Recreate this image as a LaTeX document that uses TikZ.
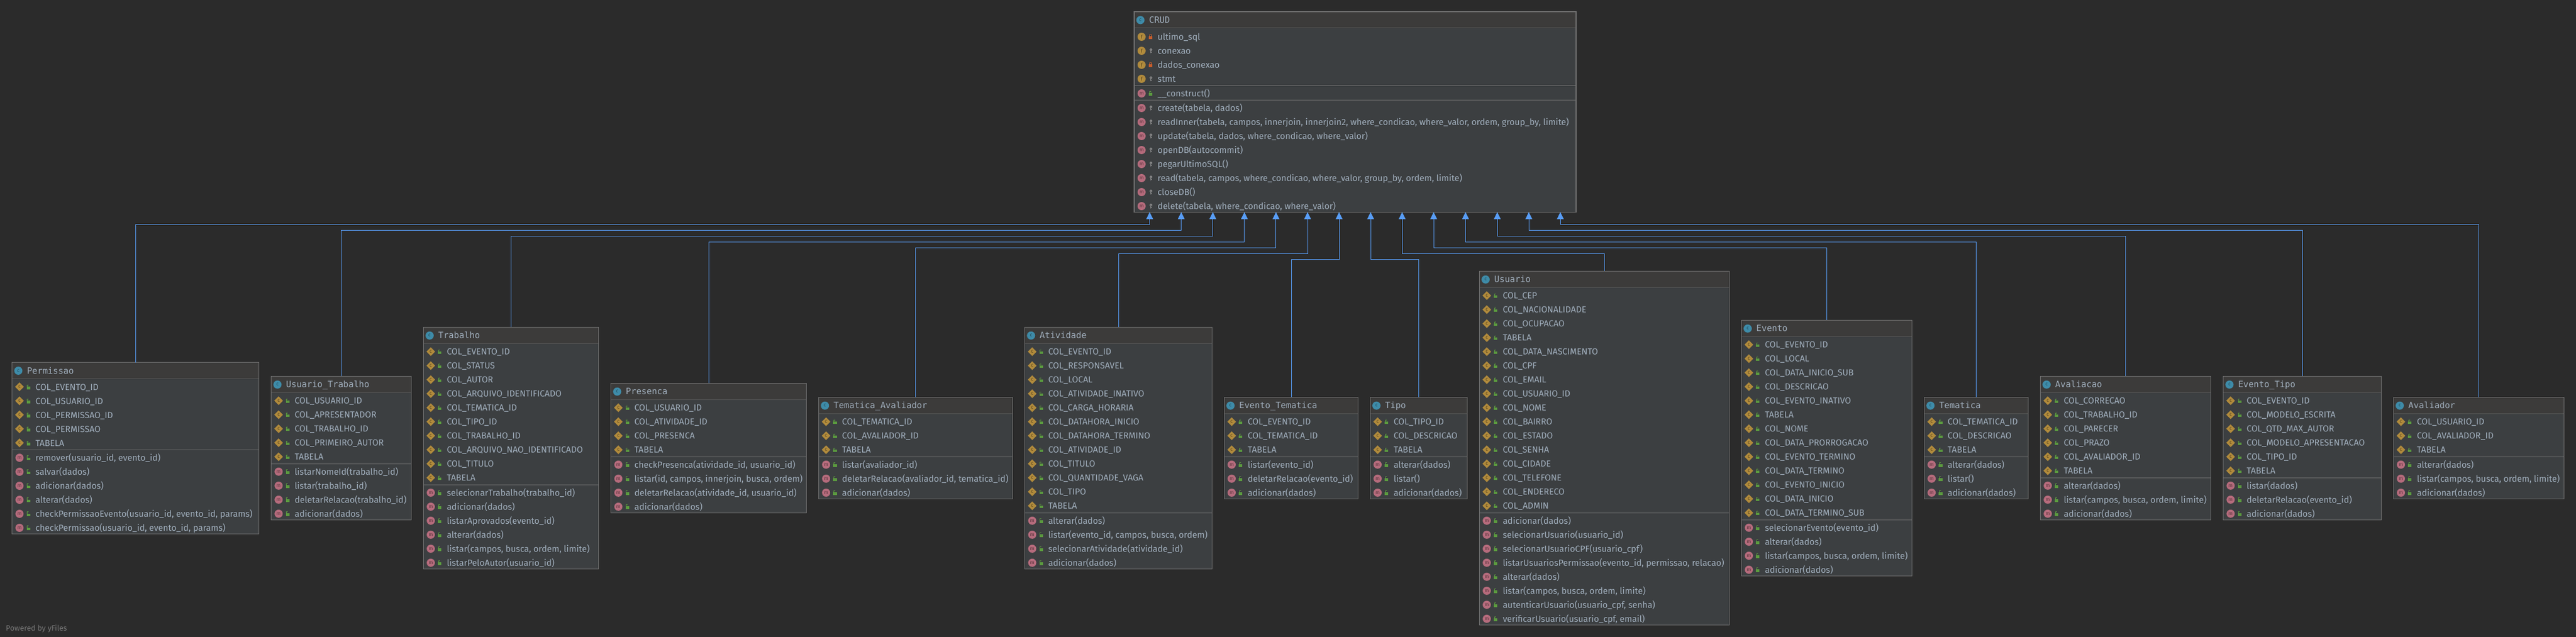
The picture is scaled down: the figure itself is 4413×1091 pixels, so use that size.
\documentclass[tikz,border=0pt]{standalone}
\usepackage{fontspec}
\setmainfont{Fira Sans}
\newfontfamily\titlefont{DejaVu Sans Mono}
\usetikzlibrary{arrows.meta}
\usetikzlibrary{shapes.geometric}
\definecolor{bgdark}{HTML}{2B2B2B}
\definecolor{bodyfill}{HTML}{3C3F41}
\definecolor{titlefill}{HTML}{3C3B3A}
\definecolor{boxline}{HTML}{707070}
\definecolor{titleline}{HTML}{555555}
\definecolor{rowtext}{HTML}{A0AEBC}
\definecolor{linkblue}{HTML}{589DF6}
\definecolor{constorange}{HTML}{B08A3C}
\definecolor{methodpink}{HTML}{B56B7C}
\definecolor{classteal}{HTML}{3E8BA8}
\definecolor{lockgreen}{HTML}{5B9A3F}
\definecolor{lockred}{HTML}{C75D2C}
\definecolor{keygrey}{HTML}{9A9A9A}
\tikzset{
 classbox/.style = {%
    shape=rectangle,
    draw=boxline,
    fill=bodyfill,
    line width=1.2pt,
    inner sep=0pt, outer sep=0pt},
 classname/.style = {%
    anchor=base west,
    inner sep=0pt,
    text=rowtext,
    font=\titlefont\fontsize{14.8}{16}\selectfont},
 rowlabel/.style = {%
    anchor=base west,
    inner sep=0pt,
    text=rowtext,
    font=\fontsize{15.1}{18}\selectfont},
 iconbase/.style = {%
    inner sep=0pt,
    font=\fontsize{8.5}{9}\selectfont},
 classicon/.style = {iconbase, circle, fill=classteal, minimum size=14pt, text=classteal!55!black},
 methodicon/.style = {iconbase, circle, fill=methodpink, minimum size=14pt, text=methodpink!50!black},
 fieldicon/.style = {iconbase, circle, fill=constorange, minimum size=14pt, text=constorange!50!black},
 consticon/.style = {iconbase, diamond, fill=constorange, minimum size=15pt, text=constorange!50!black},
 extends/.style = {%
    draw=linkblue,
    line width=1pt,
    -{Triangle[length=12pt,width=11.5pt]}},
 pics/lockopen/.style = {code={
    \fill[lockgreen] (-2.8,-0.5) rectangle (3.4,4);
    \draw[lockgreen,line width=1pt] (-1.6,0) -- (-1.6,-3.2) -- (0.8,-3.2);}},
 pics/lockclosed/.style = {code={
    \fill[lockred] (-3.2,-1) rectangle (3.2,4);
    \draw[lockred,line width=1pt] (-1.6,-1) -- (-1.6,-3.6) -- (1.6,-3.6) -- (1.6,-1);}},
 pics/keyicon/.style = {code={
    \draw[keygrey,line width=1pt] (1,-1.8) circle (1.8pt);
    \draw[keygrey,line width=1pt] (1,0) -- (1,4) (1,2.2) -- (2.6,2.2);}},
}
% name, icon style, icon letter, visibility pic, y, text
\newcommand{\classrow}[6]{%
    \node[#2] (#1-icon) at (12.7,{#5}) {#3};
    \path (27.7,{#5}) pic {#4};
    \node[rowlabel] (#1) at (40,{#5+5.5}) {#6};
}
% name, title, x, y, width, field count, method count, fields, methods
\newcommand{\umlclass}[9]{%
    \pgfmathsetmacro{\dividery}{30+24*#6}
    \pgfmathsetmacro{\boxh}{\dividery+24*#7}
    \node[classbox, anchor=north west, minimum width=#5pt, minimum height=\boxh pt] (#1) at (#3,#4) {};
    \begin{scope}[shift={(#3,#4)}]
        \fill[titlefill] (0.6,0.6) rectangle (#5-0.6,28);
        \draw[titleline,line width=1pt] (0.6,28) -- (#5-0.6,28);
        \draw[boxline,line width=1pt] (0.6,\dividery) -- (#5-0.6,\dividery);
        \node[classicon] (#1-icon) at (10.7,14.4) {c};
        \node[classname] (#1-title) at (25.4,19.5) {#2};
        \foreach \txt [count=\i] in {#8} {
            \classrow{#1-f\i}{consticon}{c}{lockopen}{42+24*(\i-1)}{\txt}
        }
        \foreach \txt [count=\i] in {#9} {
            \classrow{#1-m\i}{methodicon}{m}{lockopen}{\dividery+13.5+24*(\i-1)}{\txt}
        }
    \end{scope}
}
\begin{document}
\begin{tikzpicture}[x=1pt,y=-1pt]
    \fill[bgdark] (0,0) rectangle (4413,1091);
    \useasboundingbox (0,0) rectangle (4413,1091);

    \node[classbox, anchor=north west, minimum width=757pt, minimum height=343.3pt] (crud) at (1943,20) {};
    \begin{scope}[shift={(1943,20)}]
        \fill[titlefill] (0.6,0.6) rectangle (756.4,28);
        \draw[titleline,line width=1pt] (0.6,28) -- (756.4,28);
        \draw[boxline,line width=1pt] (0.6,126.3) -- (756.4,126.3);
        \draw[boxline,line width=1pt] (0.6,151.3) -- (756.4,151.3);
        \node[classicon] (crud-icon) at (10.7,14.4) {c};
        \node[classname] (crud-title) at (25.4,19.5) {CRUD};
        \foreach \vis/\txt [count=\i] in {lockclosed/ultimo\_sql, keyicon/conexao, lockclosed/dados\_conexao, keyicon/stmt} {
            \classrow{crud-f\i}{fieldicon}{f}{\vis}{43+24*(\i-1)}{\txt}
        }
        \classrow{crud-c1}{methodicon}{m}{lockopen}{140}{\_\_construct()}
        \foreach \txt [count=\i] in {
            {create(tabela, dados)},
            {readInner(tabela, campos, innerjoin, innerjoin2, where\_condicao, where\_valor, ordem, group\_by, limite)},
            {update(tabela, dados, where\_condicao, where\_valor)},
            {openDB(autocommit)},
            {pegarUltimoSQL()},
            {read(tabela, campos, where\_condicao, where\_valor, group\_by, ordem, limite)},
            {closeDB()},
            {delete(tabela, where\_condicao, where\_valor)}} {
            \classrow{crud-m\i}{methodicon}{m}{keyicon}{165+24*(\i-1)}{\txt}
        }
    \end{scope}

    \umlclass{permissao}{Permissao}{20.7}{620.5}{422.8}{5}{6}
        {COL\_EVENTO\_ID, COL\_USUARIO\_ID, COL\_PERMISSAO\_ID, COL\_PERMISSAO, TABELA}
        {{remover(usuario\_id, evento\_id)}, salvar(dados), adicionar(dados), alterar(dados),
         {checkPermissaoEvento(usuario\_id, evento\_id, params)}, {checkPermissao(usuario\_id, evento\_id, params)}}
    \umlclass{usuariotrabalho}{Usuario\_Trabalho}{464.6}{644.3}{239.7}{5}{4}
        {COL\_USUARIO\_ID, COL\_APRESENTADOR, COL\_TRABALHO\_ID, COL\_PRIMEIRO\_AUTOR, TABELA}
        {listarNomeId(trabalho\_id), listar(trabalho\_id), deletarRelacao(trabalho\_id), adicionar(dados)}
    \umlclass{trabalho}{Trabalho}{725.3}{560.3}{300.2}{10}{6}
        {COL\_EVENTO\_ID, COL\_STATUS, COL\_AUTOR, COL\_ARQUIVO\_IDENTIFICADO, COL\_TEMATICA\_ID, COL\_TIPO\_ID,
         COL\_TRABALHO\_ID, COL\_ARQUIVO\_NAO\_IDENTIFICADO, COL\_TITULO, TABELA}
        {selecionarTrabalho(trabalho\_id), adicionar(dados), listarAprovados(evento\_id), alterar(dados),
         {listar(campos, busca, ordem, limite)}, listarPeloAutor(usuario\_id)}
    \umlclass{presenca}{Presenca}{1046.6}{656.3}{334.8}{4}{4}
        {COL\_USUARIO\_ID, COL\_ATIVIDADE\_ID, COL\_PRESENCA, TABELA}
        {{checkPresenca(atividade\_id, usuario\_id)}, {listar(id, campos, innerjoin, busca, ordem)},
         {deletarRelacao(atividade\_id, usuario\_id)}, adicionar(dados)}
    \umlclass{tematicaavaliador}{Tematica\_Avaliador}{1402.5}{680.3}{332}{3}{3}
        {COL\_TEMATICA\_ID, COL\_AVALIADOR\_ID, TABELA}
        {listar(avaliador\_id), {deletarRelacao(avaliador\_id, tematica\_id)}, adicionar(dados)}
    \umlclass{atividade}{Atividade}{1755.6}{560.3}{320.9}{12}{4}
        {COL\_EVENTO\_ID, COL\_RESPONSAVEL, COL\_LOCAL, COL\_ATIVIDADE\_INATIVO, COL\_CARGA\_HORARIA,
         COL\_DATAHORA\_INICIO, COL\_DATAHORA\_TERMINO, COL\_ATIVIDADE\_ID, COL\_TITULO,
         COL\_QUANTIDADE\_VAGA, COL\_TIPO, TABELA}
        {alterar(dados), {listar(evento\_id, campos, busca, ordem)}, selecionarAtividade(atividade\_id), adicionar(dados)}
    \umlclass{eventotematica}{Evento\_Tematica}{2097.3}{680.3}{229.4}{3}{3}
        {COL\_EVENTO\_ID, COL\_TEMATICA\_ID, TABELA}
        {listar(evento\_id), deletarRelacao(evento\_id), adicionar(dados)}
    \umlclass{tipo}{Tipo}{2347.3}{680.3}{166.4}{3}{3}
        {COL\_TIPO\_ID, COL\_DESCRICAO, TABELA}
        {alterar(dados), listar(), adicionar(dados)}
    \umlclass{usuario}{Usuario}{2534.3}{464.3}{428.4}{16}{8}
        {COL\_CEP, COL\_NACIONALIDADE, COL\_OCUPACAO, TABELA, COL\_DATA\_NASCIMENTO, COL\_CPF, COL\_EMAIL,
         COL\_USUARIO\_ID, COL\_NOME, COL\_BAIRRO, COL\_ESTADO, COL\_SENHA, COL\_CIDADE, COL\_TELEFONE,
         COL\_ENDERECO, COL\_ADMIN}
        {adicionar(dados), selecionarUsuario(usuario\_id), selecionarUsuarioCPF(usuario\_cpf),
         {listarUsuariosPermissao(evento\_id, permissao, relacao)}, alterar(dados),
         {listar(campos, busca, ordem, limite)}, {autenticarUsuario(usuario\_cpf, senha)},
         {verificarUsuario(usuario\_cpf, email)}}
    \umlclass{evento}{Evento}{2983.3}{548.3}{292}{13}{4}
        {COL\_EVENTO\_ID, COL\_LOCAL, COL\_DATA\_INICIO\_SUB, COL\_DESCRICAO, COL\_EVENTO\_INATIVO, TABELA, COL\_NOME,
         COL\_DATA\_PRORROGACAO, COL\_EVENTO\_TERMINO, COL\_DATA\_TERMINO, COL\_EVENTO\_INICIO, COL\_DATA\_INICIO,
         COL\_DATA\_TERMINO\_SUB}
        {selecionarEvento(evento\_id), alterar(dados), {listar(campos, busca, ordem, limite)}, adicionar(dados)}
    \umlclass{tematica}{Tematica}{3296.4}{680.3}{178.2}{3}{3}
        {COL\_TEMATICA\_ID, COL\_DESCRICAO, TABELA}
        {alterar(dados), listar(), adicionar(dados)}
    \umlclass{avaliacao}{Avaliacao}{3495.3}{644.3}{292.2}{6}{3}
        {COL\_CORRECAO, COL\_TRABALHO\_ID, COL\_PARECER, COL\_PRAZO, COL\_AVALIADOR\_ID, TABELA}
        {alterar(dados), {listar(campos, busca, ordem, limite)}, adicionar(dados)}
    \umlclass{eventotipo}{Evento\_Tipo}{3808.6}{644.3}{271.1}{6}{3}
        {COL\_EVENTO\_ID, COL\_MODELO\_ESCRITA, COL\_QTD\_MAX\_AUTOR, COL\_MODELO\_APRESENTACAO, COL\_TIPO\_ID, TABELA}
        {listar(dados), deletarRelacao(evento\_id), adicionar(dados)}
    \umlclass{avaliador}{Avaliador}{4100.3}{680.3}{292.2}{3}{3}
        {COL\_USUARIO\_ID, COL\_AVALIADOR\_ID, TABELA}
        {alterar(dados), {listar(campos, busca, ordem, limite)}, adicionar(dados)}

    \foreach \src/\tipx/\level in {permissao/26.5/384.3, usuariotrabalho/80.6/394.3, trabalho/134.7/404.3,
        presenca/188.8/414.3, tematicaavaliador/242.9/424.3, atividade/297/434.3, eventotematica/351/444.3,
        tipo/405/444.3, usuario/459/434.3, evento/513/424.3, tematica/567.6/414.3, avaliacao/622/404.3,
        eventotipo/676/394.3, avaliador/730/384.3} {
        \coordinate (tip-\src) at ([xshift=\tipx pt]crud.south west);
        \draw[extends] (\src.north) |- (tip-\src |- 0,\level) -- (tip-\src);
    }

    \node[anchor=base west, inner sep=0pt, text=white!35!bgdark, font=\fontsize{13}{14}\selectfont] (poweredby) at (10,1080) {Powered by yFiles};
\end{tikzpicture}
\end{document}
